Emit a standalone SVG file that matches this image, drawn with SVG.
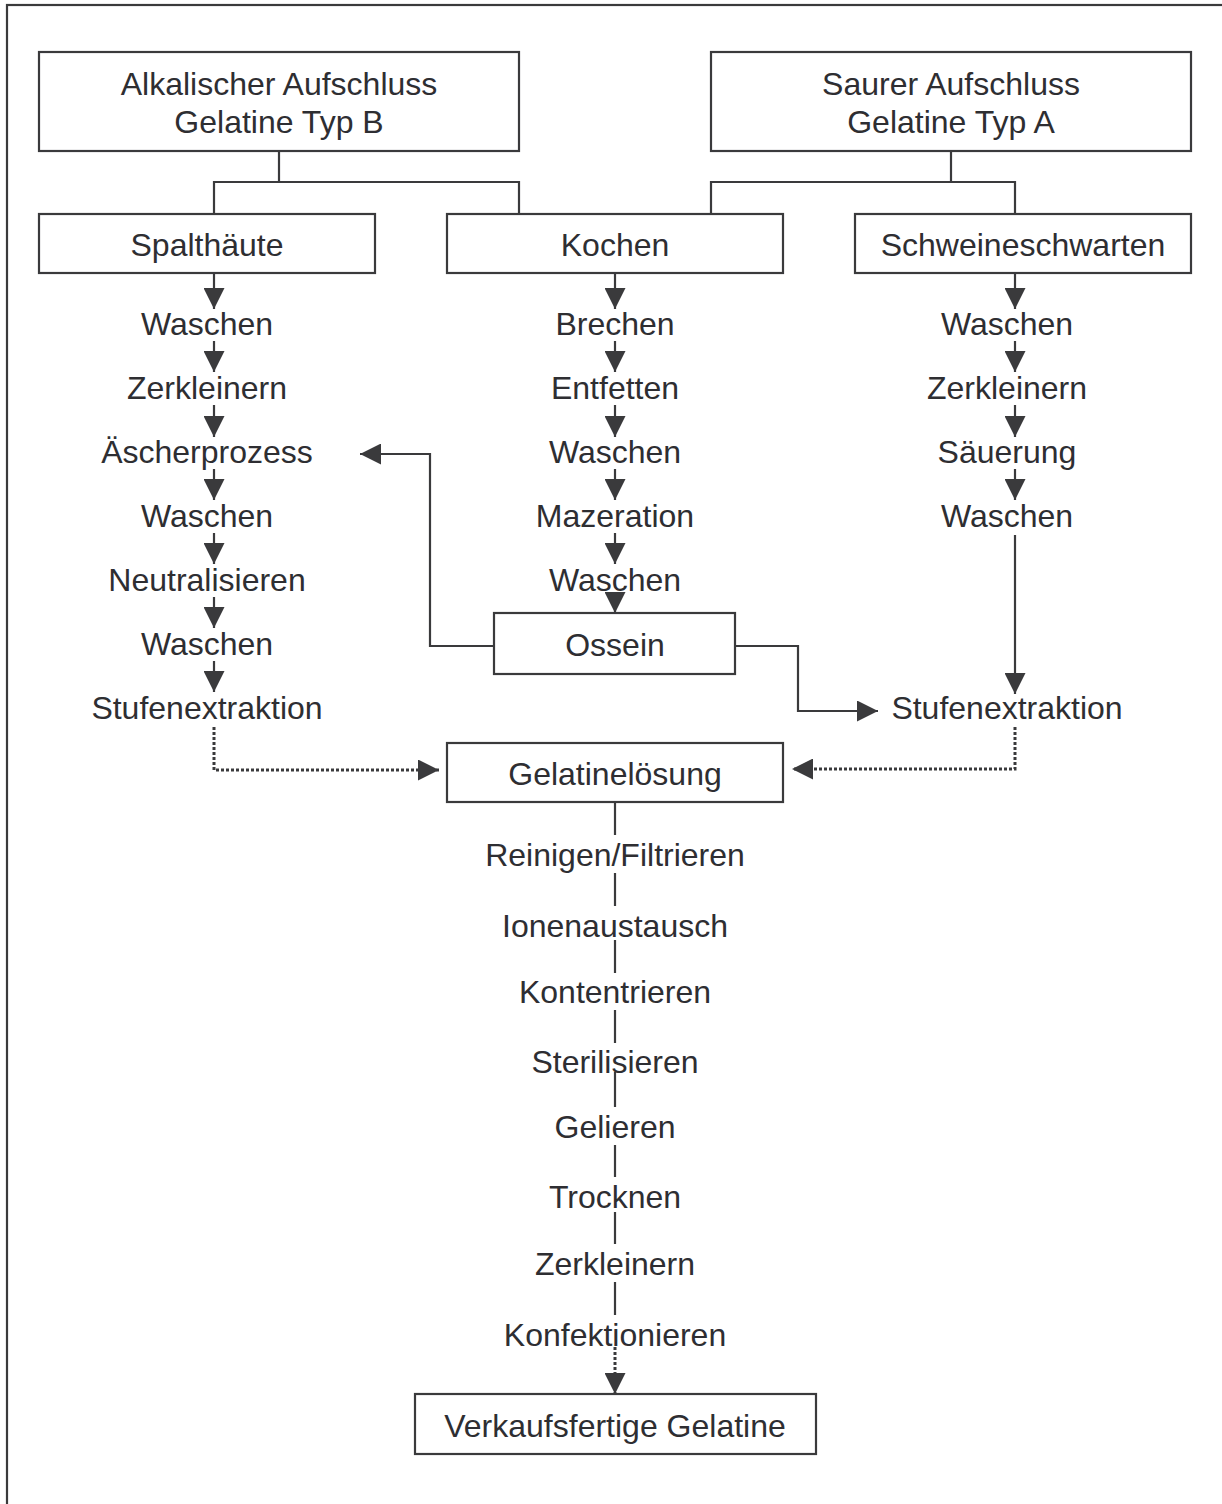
<svg xmlns="http://www.w3.org/2000/svg" width="1222" height="1504" viewBox="0 0 1222 1504">
<style>
.box{fill:#fff;stroke:#3a3a3c;stroke-width:2.2}
.ln{fill:none;stroke:#3a3a3c;stroke-width:2.2}
.dot{fill:none;stroke:#3a3a3c;stroke-width:3;stroke-dasharray:3 2}
.arr{marker-end:url(#ah)}
text{font-family:"Liberation Sans",Arial,sans-serif;font-size:32px;fill:#2e2e32;text-anchor:middle}
</style>
<defs>
<marker id="ah" viewBox="0 0 21 21" refX="21" refY="10.5" markerWidth="21" markerHeight="21" markerUnits="userSpaceOnUse" orient="auto">
<path d="M0,0 L21,10.5 L0,21 z" fill="#3a3a3c"/>
</marker>
</defs>
<rect x="7" y="5" width="1300" height="1600" fill="#fff" stroke="#3a3a3c" stroke-width="2.2"/>

<g id="connectors">
<polyline class="ln" points="279,151 279,182"/>
<polyline class="ln" points="214,214 214,182 519,182 519,214"/>
<polyline class="ln" points="951,151 951,182"/>
<polyline class="ln" points="711,214 711,182 1015,182 1015,214"/>
<line class="ln arr" x1="214" y1="273" x2="214" y2="309"/>
<line class="ln arr" x1="214" y1="341" x2="214" y2="372"/>
<line class="ln arr" x1="214" y1="405" x2="214" y2="437"/>
<line class="ln arr" x1="214" y1="469" x2="214" y2="500"/>
<line class="ln arr" x1="214" y1="533" x2="214" y2="564"/>
<line class="ln arr" x1="214" y1="597" x2="214" y2="628"/>
<line class="ln arr" x1="214" y1="661" x2="214" y2="692"/>
<line class="ln arr" x1="615" y1="273" x2="615" y2="309"/>
<line class="ln arr" x1="615" y1="341" x2="615" y2="372"/>
<line class="ln arr" x1="615" y1="405" x2="615" y2="437"/>
<line class="ln arr" x1="615" y1="469" x2="615" y2="500"/>
<line class="ln arr" x1="615" y1="533" x2="615" y2="564"/>
<line class="ln arr" x1="615" y1="597" x2="615" y2="613"/>
<line class="ln arr" x1="1015" y1="273" x2="1015" y2="309"/>
<line class="ln arr" x1="1015" y1="341" x2="1015" y2="372"/>
<line class="ln arr" x1="1015" y1="405" x2="1015" y2="437"/>
<line class="ln arr" x1="1015" y1="469" x2="1015" y2="500"/>
<line class="ln arr" x1="1015" y1="535" x2="1015" y2="694"/>
<polyline class="ln arr" points="494,646 430,646 430,454 360,454"/>
<polyline class="ln arr" points="735,646 798,646 798,711 878,711"/>
<polyline class="dot arr" points="214,727 214,770 439,770"/>
<polyline class="dot arr" points="1015,727 1015,769 792,769"/>
<line class="ln" x1="615" y1="802" x2="615" y2="835"/>
<line class="ln" x1="615" y1="873" x2="615" y2="906"/>
<line class="ln" x1="615" y1="940" x2="615" y2="973"/>
<line class="ln" x1="615" y1="1010" x2="615" y2="1043"/>
<line class="ln" x1="615" y1="1072" x2="615" y2="1107"/>
<line class="ln" x1="615" y1="1145" x2="615" y2="1177"/>
<line class="ln" x1="615" y1="1212" x2="615" y2="1244"/>
<line class="ln" x1="615" y1="1282" x2="615" y2="1315"/>
<line class="dot arr" x1="615" y1="1347" x2="615" y2="1394"/>
</g>

<g id="alkalisch"><rect class="box" x="39" y="52" width="480" height="99"/><text x="279" y="95">Alkalischer Aufschluss</text><text x="279" y="133">Gelatine Typ B</text></g>
<g id="sauer"><rect class="box" x="711" y="52" width="480" height="99"/><text x="951" y="95">Saurer Aufschluss</text><text x="951" y="133">Gelatine Typ A</text></g>
<g id="spalthaeute"><rect class="box" x="39" y="214" width="336" height="59"/><text x="207" y="256">Spalthäute</text></g>
<g id="kochen"><rect class="box" x="447" y="214" width="336" height="59"/><text x="615" y="256">Kochen</text></g>
<g id="schweineschwarten"><rect class="box" x="855" y="214" width="336" height="59"/><text x="1023" y="256">Schweineschwarten</text></g>

<g id="b-waschen1"><text x="207" y="335">Waschen</text></g>
<g id="b-zerkleinern"><text x="207" y="399">Zerkleinern</text></g>
<g id="b-aescher"><text x="207" y="463">Äscherprozess</text></g>
<g id="b-waschen2"><text x="207" y="527">Waschen</text></g>
<g id="b-neutral"><text x="207" y="591">Neutralisieren</text></g>
<g id="b-waschen3"><text x="207" y="655">Waschen</text></g>
<g id="b-stufen"><text x="207" y="719">Stufenextraktion</text></g>

<g id="m-brechen"><text x="615" y="335">Brechen</text></g>
<g id="m-entfetten"><text x="615" y="399">Entfetten</text></g>
<g id="m-waschen1"><text x="615" y="463">Waschen</text></g>
<g id="m-mazeration"><text x="615" y="527">Mazeration</text></g>
<g id="m-waschen2"><text x="615" y="591">Waschen</text></g>
<g id="ossein"><rect class="box" x="494" y="613" width="241" height="61"/><text x="615" y="656">Ossein</text></g>

<g id="a-waschen1"><text x="1007" y="335">Waschen</text></g>
<g id="a-zerkleinern"><text x="1007" y="399">Zerkleinern</text></g>
<g id="a-saeuerung"><text x="1007" y="463">Säuerung</text></g>
<g id="a-waschen2"><text x="1007" y="527">Waschen</text></g>
<g id="a-stufen"><text x="1007" y="719">Stufenextraktion</text></g>

<g id="gelatineloesung"><rect class="box" x="447" y="743" width="336" height="59"/><text x="615" y="785">Gelatinelösung</text></g>
<g id="reinigen"><text x="615" y="866">Reinigen/Filtrieren</text></g>
<g id="ionen"><text x="615" y="937">Ionenaustausch</text></g>
<g id="konzentrieren"><text x="615" y="1003">Kontentrieren</text></g>
<g id="sterilisieren"><text x="615" y="1073">Sterilisieren</text></g>
<g id="gelieren"><text x="615" y="1138">Gelieren</text></g>
<g id="trocknen"><text x="615" y="1208">Trocknen</text></g>
<g id="zerkleinern2"><text x="615" y="1275">Zerkleinern</text></g>
<g id="konfektionieren"><text x="615" y="1346">Konfektionieren</text></g>
<g id="verkauf"><rect class="box" x="415" y="1394" width="401" height="60"/><text x="615" y="1437">Verkaufsfertige Gelatine</text></g>
</svg>
